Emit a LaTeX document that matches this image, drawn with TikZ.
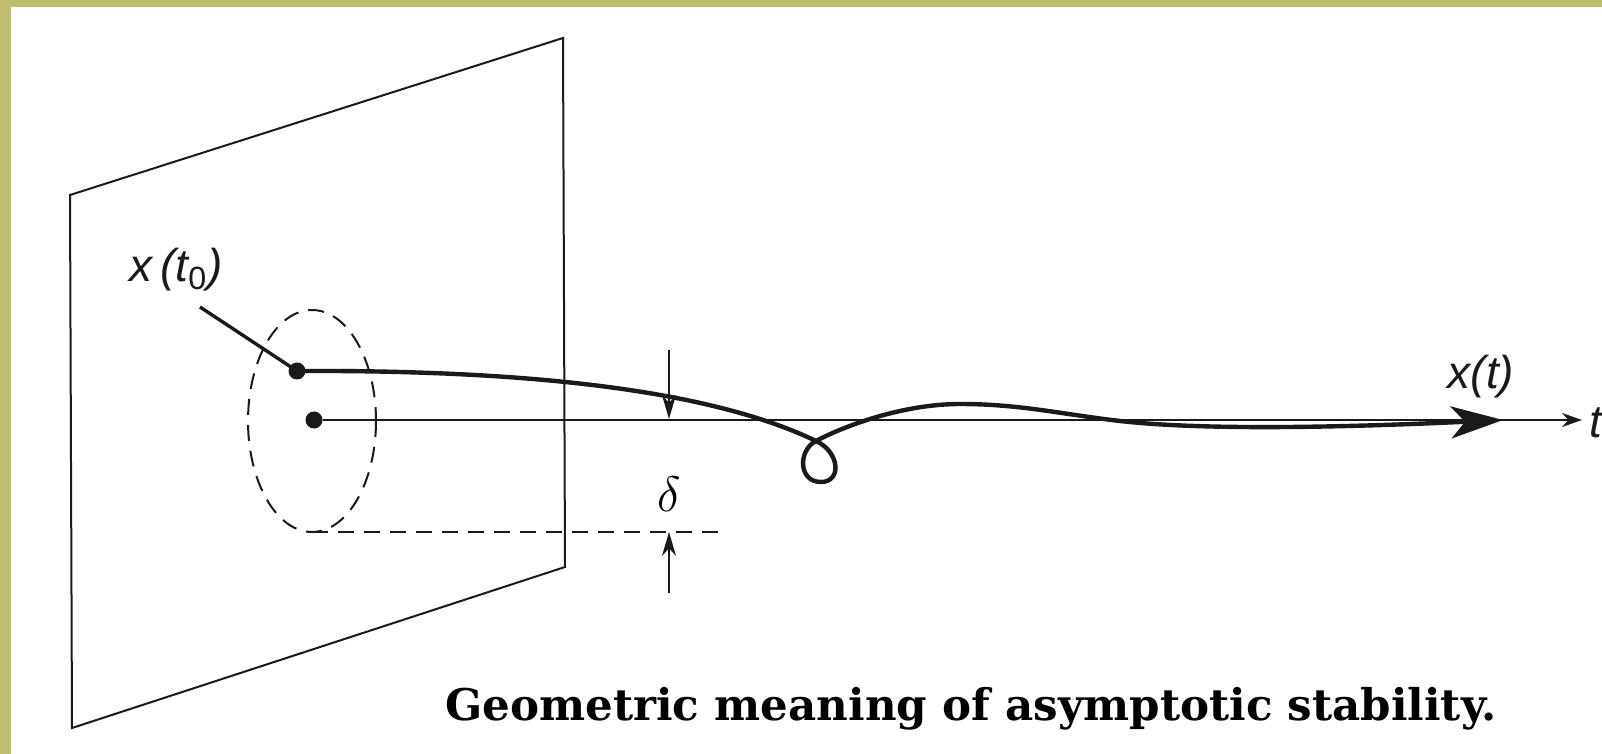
\documentclass[tikz,border=0pt]{standalone}
\usepackage{fontspec}
\usepackage{amsmath}
\usetikzlibrary{arrows.meta,positioning,calc}
\newfontfamily\lblfont{Liberation Sans}
\newfontfamily\capfont{DejaVu Serif}
\definecolor{asFrame}{HTML}{BFBF6E}
\definecolor{asInk}{HTML}{1A1A1A}
\tikzset{
  plane/.style={draw=asInk, line width=1pt, line join=miter},
  dot/.style={circle, fill=asInk, inner sep=0pt, minimum size=8.5pt},
  traj/.style={draw=asInk, line width=2.2pt, line cap=round},
  trajarrow/.style={traj, -{Stealth[length=26pt, width=16pt, inset=7pt]}},
  axisline/.style={draw=asInk, line width=1.2pt, -{Stealth[length=10pt, width=7pt]}},
  leader/.style={draw=asInk, line width=1.7pt},
  rim/.style={draw=asInk, line width=1pt, dash pattern=on 8pt off 5pt},
  dimarrow/.style={draw=asInk, line width=0.9pt, -{Stealth[length=12pt, width=7pt]}},
  lbl/.style={font=\lblfont\itshape\fontsize{23}{27}\selectfont, inner sep=0pt, text=asInk},
  caption/.style={font=\capfont\bfseries\fontsize{21.8}{26}\selectfont, inner sep=0pt}
}
\begin{document}
\begin{tikzpicture}[x=0.5pt, y=-0.5pt]
  \useasboundingbox (0,0) rectangle (1602,754);
  \fill[asFrame] (0,0) rectangle (1602,754);
  \fill[white] (11,7) rectangle (1602,754);

  \draw[plane] (70,195) -- (563,38) -- (565,567) -- (72,728) -- cycle;

  \node[dot] (org) at (314,420) {};
  \coordinate (tend) at (1582,420);
  \coordinate (xt) at (1503,420);
  \node[lbl, anchor=west] (tlbl) at (1589,423) {t};
  \draw[axisline] (org) -- (tend);

  \draw[rim] (312,421) ellipse [x radius=64, y radius=111];
  \coordinate (rimbot) at (312,532);
  \coordinate (rimend) at (727,532);
  \draw[rim] (rimbot) -- (rimend);

  \node[dot] (x0) at (297,371) {};
  \node[lbl] (x0lbl) at (176,270) {x\,(t\textsubscript{\upshape 0})};
  \coordinate (x0tail) at (200,307);
  \draw[leader] (x0tail) -- (x0.center);

  \draw[trajarrow] (x0.center) .. controls (500,370) and (700,385) .. (816,441)
    .. controls (840,452) and (842,482) .. (821,482)
    .. controls (798,482) and (798,450) .. (816,441)
    .. controls (840,428) and (900,404) .. (960,404)
    .. controls (1020,404) and (1060,414) .. (1120,421)
    .. controls (1200,430) and (1330,428) .. (xt);
  \node[lbl] (xtlbl) at (1481,377) {x(t)};

  \coordinate (dtop) at (669,350);
  \coordinate (daxis) at (669,419);
  \coordinate (dbot) at (669,593);
  \coordinate (drim) at (669,532);
  \draw[dimarrow] (dtop) -- (daxis);
  \draw[dimarrow] (dbot) -- (drim);
  \node[font=\fontsize{26}{30}\selectfont, inner sep=0pt] (delta) at (669,494) {$\delta$};

  \node[caption, anchor=base west] (cap) at (445,720) {Geometric meaning of asymptotic stability.};
\end{tikzpicture}
\end{document}
